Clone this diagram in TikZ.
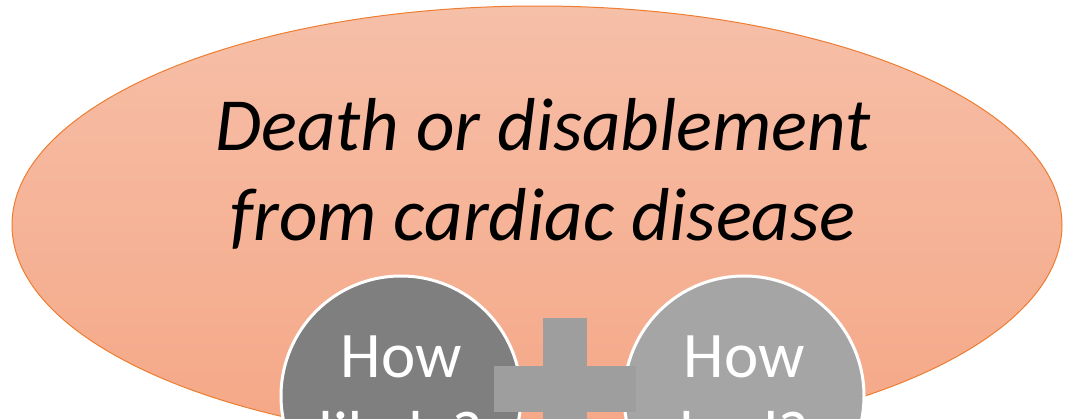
\documentclass[tikz,border=0pt]{standalone}
\usepackage{fontspec}
\setmainfont{Carlito}
\usepackage{tikz}
\usetikzlibrary{shapes.geometric,positioning}
\definecolor{salmontop}{RGB}{246,191,168}
\definecolor{salmonbot}{RGB}{245,167,134}
\definecolor{edgeorange}{RGB}{237,125,49}
\definecolor{darkgrey}{RGB}{127,127,127}
\definecolor{lightgrey}{RGB}{165,165,165}
\definecolor{plusgrey}{RGB}{158,158,158}
\tikzset{
  hazard/.style={
    shape = ellipse,
    minimum width = 1050pt,
    minimum height = 438pt,
    inner sep = 0pt,
    top color = salmontop,
    bottom color = salmonbot,
    draw = edgeorange,
    line width = 1pt
  },
  factor/.style={
    shape = circle,
    minimum size = 240pt,
    inner sep = 0pt,
    draw = white,
    line width = 3pt,
    text = white,
    align = center,
    text depth = 0pt,
    font = \fontsize{65}{79}\selectfont
  },
  headline/.style={
    anchor = base,
    align = center,
    font = \itshape\fontsize{75}{90}\selectfont
  }
}
\begin{document}
\begin{tikzpicture}[x=1pt,y=-1pt]
                \useasboundingbox (0,0) rectangle (1077,418);
                \clip (0,0) rectangle (1077,418);

                \node[hazard] (outcome) at (537,225) {};
                \node[headline] (title) at (543,240) {Death or disablement\\from cardiac disease};

                \node[factor, fill=darkgrey] (likely) at (401,396) {How\\likely?};
                \node[factor, fill=lightgrey] (bad) at (744,396) {How\\bad?};

                % plus sign between the two circles
                \fill[plusgrey] (543,318) rectangle (587,460);
                \fill[plusgrey] (494,366) rectangle (636,412);
\end{tikzpicture}
\end{document}
